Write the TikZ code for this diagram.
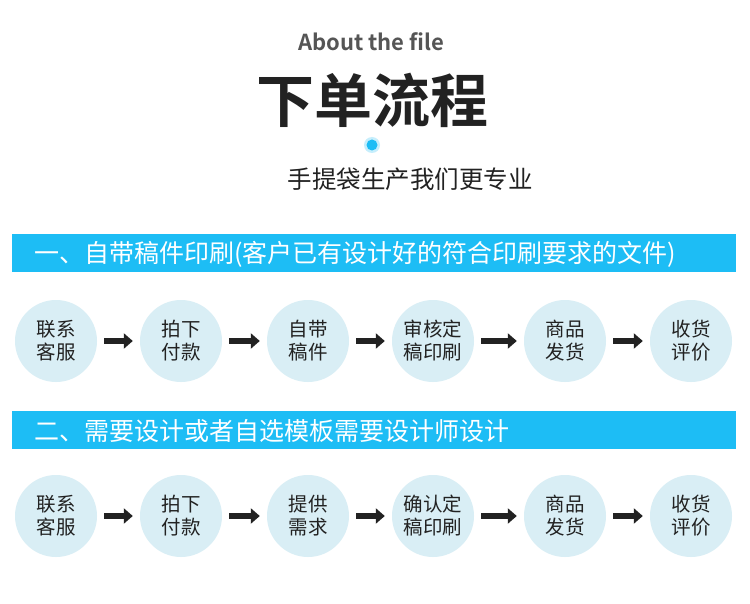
\documentclass[tikz,border=0pt]{standalone}
\usepackage{fontspec}
\setmainfont{Noto Sans CJK SC}
\newfontfamily\cjkb{Noto Sans CJK SC Bold}
\usetikzlibrary{arrows.meta}
\definecolor{barblue}{HTML}{1DBDF5}
\definecolor{circfill}{HTML}{D9EEF5}
\definecolor{dark}{HTML}{222222}
\definecolor{greytxt}{HTML}{555555}
\tikzset{
  stepcirc/.style={circle,fill=circfill,minimum size=82pt,inner sep=0pt,align=center,
    font=\fontsize{19.5}{23}\selectfont,text=dark},
  bar/.style={fill=barblue,draw=none},
  bartext/.style={anchor=west,text=white,font=\fontsize{25}{28}\selectfont,inner sep=0pt},
  flow/.style={-{Triangle[length=9pt,width=15pt]},line width=6pt,draw=dark,shorten <=7pt,shorten >=7pt}
}
\begin{document}
\begin{tikzpicture}[x=1pt,y=-1pt]
\useasboundingbox (0,0) rectangle (750,604);
\fill[white] (0,0) rectangle (750,604);
\node[text=greytxt,font=\cjkb\fontsize{22}{24}\selectfont] (about) at (371,42) {About the file};
\node[text=dark,font=\cjkb\fontsize{58}{60}\selectfont] (title) at (372,100) {下单流程};
\fill[barblue!25] (372,145) circle (8);
\node[circle,fill=barblue,minimum size=11pt,inner sep=0pt] (dot) at (372,145) {};
\node[text=dark,font=\fontsize{24.5}{26}\selectfont] (sub) at (410,179) {手提袋生产我们更专业};
% bar 1
\fill[bar] (12,234) rectangle (736,272);
\node[bartext] (b1) at (34,254) {一、自带稿件印刷(客户已有设计好的符合印刷要求的文件)};
% row 1
\node[stepcirc] (a1) at (56,341) {联系\\客服};
\node[stepcirc] (a2) at (181,341) {拍下\\付款};
\node[stepcirc] (a3) at (308,341) {自带\\稿件};
\node[stepcirc] (a4) at (433,341) {审核定\\稿印刷};
\node[stepcirc] (a5) at (565,341) {商品\\发货};
\node[stepcirc] (a6) at (691,341) {收货\\评价};
\foreach \i/\j in {a1/a2,a2/a3,a3/a4,a4/a5,a5/a6} \draw[flow] (\i) -- (\j);
% bar 2
\fill[bar] (12,411) rectangle (736,449);
\node[bartext] (b2) at (34,431) {二、需要设计或者自选模板需要设计师设计};
% row 2
\node[stepcirc] (c1) at (56,516) {联系\\客服};
\node[stepcirc] (c2) at (181,516) {拍下\\付款};
\node[stepcirc] (c3) at (308,516) {提供\\需求};
\node[stepcirc] (c4) at (433,516) {确认定\\稿印刷};
\node[stepcirc] (c5) at (565,516) {商品\\发货};
\node[stepcirc] (c6) at (691,516) {收货\\评价};
\foreach \i/\j in {c1/c2,c2/c3,c3/c4,c4/c5,c5/c6} \draw[flow] (\i) -- (\j);
\end{tikzpicture}
\end{document}
